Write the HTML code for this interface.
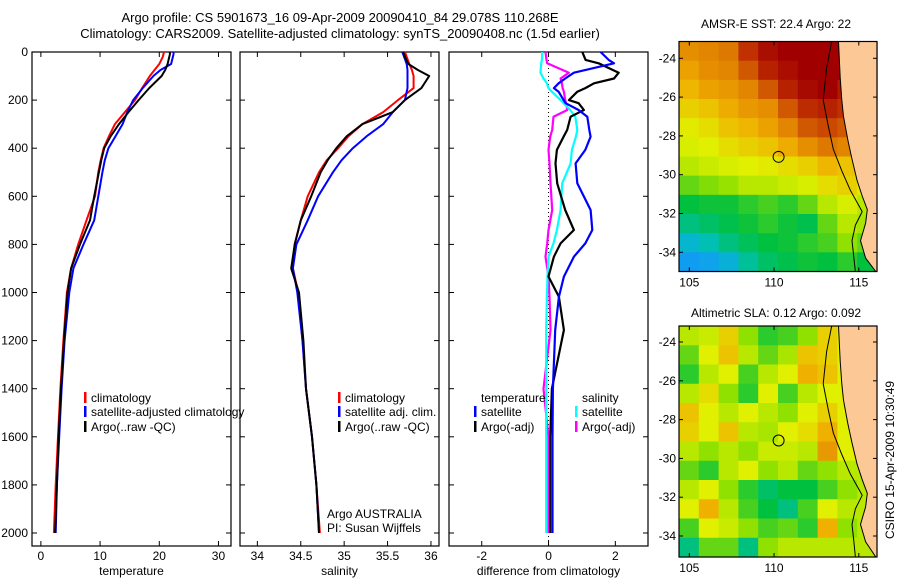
<!DOCTYPE html>
<html><head><meta charset="utf-8"><style>
html,body{margin:0;padding:0;background:#fff;}
svg{display:block;font-family:"Liberation Sans",sans-serif;}
</style></head><body>
<svg id="fig" width="900" height="580" viewBox="0 0 900 580" xmlns="http://www.w3.org/2000/svg">
<text x="340" y="22" font-size="13" text-anchor="middle">Argo profile: CS 5901673_16 09-Apr-2009 20090410_84 29.078S 110.268E</text>
<text x="340" y="38" font-size="13" text-anchor="middle">Climatology: CARS2009. Satellite-adjusted climatology: synTS_20090408.nc (1.5d earlier)</text>
<text x="776" y="28" font-size="12" text-anchor="middle">AMSR-E SST: 22.4 Argo: 22</text>
<text x="776" y="317" font-size="12" text-anchor="middle">Altimetric SLA: 0.12 Argo: 0.092</text>
<text transform="translate(894,460) rotate(-90)" font-size="12" text-anchor="middle">CSIRO 15-Apr-2009 10:30:49</text>
</svg>
<script>
// ---- data ----
const depths = [0,10,20,50,75,100,150,200,250,300,350,400,450,500,600,700,800,900,1000,1200,1400,1600,1800,2000];
const tempClim = [20.8,20.7,20.6,20.0,19.2,18.4,17.1,15.9,14.2,12.5,11.5,10.6,10.1,9.7,9.15,7.7,6.3,5.1,4.4,3.8,3.3,2.9,2.5,2.2];
const tempSat  = [22.4,22.4,22.3,22.0,20.2,19.0,17.2,15.6,14.6,13.8,12.6,11.4,10.8,10.4,9.7,9.0,7.2,5.5,4.8,4.0,3.5,3.1,2.7,2.5];
const tempArgo = [21.8,21.8,21.7,21.4,21.0,20.4,18.3,16.5,14.8,13.2,11.8,10.7,10.2,9.8,9.0,8.3,6.6,5.1,4.5,3.9,3.4,3.0,2.7,2.4];
const salClim = [35.70,35.71,35.72,35.75,35.78,35.80,35.80,35.62,35.45,35.21,35.05,34.93,34.80,34.71,34.58,34.50,34.43,34.41,34.47,34.52,34.56,34.63,34.68,34.72];
const salSat  = [35.67,35.68,35.69,35.72,35.73,35.73,35.73,35.70,35.56,35.45,35.26,35.10,34.97,34.87,34.70,34.58,34.45,34.41,34.46,34.52,34.56,34.63,34.68,34.71];
const salArgo = [35.68,35.69,35.70,35.74,35.85,35.98,35.89,35.70,35.56,35.21,35.03,34.91,34.81,34.73,34.62,34.50,34.43,34.39,34.48,34.53,34.56,34.63,34.68,34.71];
const diffDepthA = [0,33,47,86,110,130,150,165,200,213,241,269,324,352,407,463,546,657,740,796,851,934,1018,1156,1400,1600,1800,2000];
const diffTSat   = [1.56,1.8,1.96,0.76,0.5,0.3,0.16,0.3,0.45,0.51,0.9,1.16,1.22,1.26,1.1,0.81,0.86,1.26,1.31,1.1,0.76,0.46,0.31,0.2,0.13,0.12,0.12,0.12];
const diffTArgo  = [1.01,1.11,1.5,2.1,1.96,1.36,1.1,0.86,0.61,0.9,1.06,0.66,0.56,0.45,0.25,0.21,0.26,0.5,0.76,0.36,0.16,0.0,0.31,0.46,0.1,0.05,0.05,0.05];
const diffSSat   = [-0.19,-0.2,-0.22,-0.24,-0.15,-0.05,0.0,0.1,0.36,0.45,0.65,0.8,0.86,0.82,0.7,0.66,0.41,0.36,0.25,0.15,0.0,-0.03,-0.05,-0.07,-0.07,-0.07,-0.07,-0.07];
const diffSArgo  = [-0.09,-0.06,-0.04,0.61,0.36,0.4,0.42,0.46,0.5,0.53,0.56,0.15,0.11,0.05,0.0,0.03,0.06,0.11,0.0,-0.04,-0.09,0.0,0.03,0.06,-0.15,0.0,0.0,0.0];
const yTicks = [0,200,400,600,800,1000,1200,1400,1600,1800,2000];
const tTicks = [0,10,20,30];
const sTicks = [34,34.5,35,35.5,36];
const sTickLabels = ["34","34.5","35","35.5","36"];
const dTicks = [-2,0,2];
const latTicks = [-24,-26,-28,-30,-32,-34];
const lonTicks = [105,110,115];
const sstGrid = [
[.72,.74,.76,.85,.92,.95,.95,.95,.95,.95],
[.68,.72,.74,.80,.88,.92,.95,.95,.95,.90],
[.64,.68,.70,.74,.80,.88,.93,.95,.90,.85],
[.60,.62,.66,.70,.72,.80,.86,.88,.85,.80],
[.56,.58,.62,.64,.68,.74,.80,.82,.80,.72],
[.54,.55,.58,.60,.62,.66,.72,.76,.74,.64],
[.50,.52,.54,.55,.56,.58,.60,.64,.62,.58],
[.42,.44,.46,.50,.50,.52,.54,.58,.60,.56],
[.35,.36,.36,.38,.40,.38,.42,.50,.54,.50],
[.30,.32,.34,.36,.38,.36,.34,.42,.50,.48],
[.22,.26,.30,.33,.35,.36,.38,.40,.45,.42],
[.14,.16,.20,.28,.32,.34,.36,.35,.38,.35]];
const slaGrid = [
[.50,.52,.60,.45,.38,.40,.45,.60,.55,.50],
[.42,.55,.62,.50,.42,.48,.62,.60,.55,.50],
[.38,.50,.55,.40,.50,.55,.65,.62,.55,.50],
[.50,.58,.45,.38,.55,.40,.50,.55,.55,.50],
[.62,.55,.50,.55,.50,.45,.55,.60,.55,.50],
[.60,.55,.62,.50,.48,.55,.58,.65,.55,.50],
[.50,.45,.50,.45,.52,.52,.50,.70,.55,.50],
[.42,.38,.50,.55,.45,.50,.42,.45,.50,.50],
[.50,.55,.45,.38,.32,.35,.35,.40,.45,.50],
[.55,.65,.50,.40,.35,.30,.40,.55,.50,.50],
[.40,.55,.52,.45,.40,.42,.38,.65,.45,.50],
[.30,.42,.42,.30,.45,.50,.50,.50,.50,.50]];
const coastLat = [-23,-25,-26.15,-27,-28.2,-29.2,-30.3,-31.1,-31.8,-32.5,-33.4,-34.3,-35.1];
const coastLon = [113.8,113.9,114.0,114.1,114.35,114.6,114.9,115.2,115.5,115.4,115.1,115.4,116];
const shelfLat = [-23,-24.5,-26.15,-27.5,-28.7,-29.8,-30.8,-31.9,-32.6,-33.4,-34.2,-35.1];
const shelfLon = [113.4,113.1,112.9,113.2,113.5,114.0,114.5,115.2,114.8,114.6,114.7,114.8];
const argoLat = -29.078, argoLon = 110.268;

// ---- helpers ----
const NS="http://www.w3.org/2000/svg";
const svg=document.getElementById('fig');
function mk(tag,attrs,parent){const e=document.createElementNS(NS,tag);for(const k in attrs)e.setAttribute(k,attrs[k]);(parent||svg).appendChild(e);return e;}
const yTop=52, yPx=0.2405, plotBottom=546;
const yDepth=d=>yTop+d*yPx;
const panels=[
 {name:'temperature-panel',x0:32,x1:231,v0:-1.5,ppu:5.92,ticks:tTicks,labels:tTicks.map(String),xlabel:'temperature'},
 {name:'salinity-panel',x0:240,x1:439,v0:33.8,ppu:86.8,ticks:sTicks,labels:sTickLabels,xlabel:'salinity'},
 {name:'difference-panel',x0:449,x1:648,v0:-2.98,ppu:33.4,ticks:dTicks,labels:dTicks.map(String),xlabel:'difference from climatology'}];
panels.forEach(p=>{p.sx=v=>p.x0+(v-p.v0)*p.ppu;});

panels.forEach((p,i)=>{
 const g=mk('g',{});
 
 
 const r=mk('rect',{x:p.x0,y:yTop,width:p.x1-p.x0,height:plotBottom-yTop,fill:'none',stroke:'#000','stroke-width':1.2},g);
 
 
 p.ticks.forEach((t,k)=>{
  const x=p.sx(t);
  mk('line',{x1:x,x2:x,y1:plotBottom,y2:plotBottom-5,stroke:'#000'},g);
  mk('line',{x1:x,x2:x,y1:yTop,y2:yTop+5,stroke:'#000'},g);
  const tl=mk('text',{x:x,y:plotBottom+14,'font-size':12,'text-anchor':'middle'},g);
  tl.textContent=p.labels[k];
  
  
 });
 yTicks.forEach(d=>{
  const y=yDepth(d);
  mk('line',{x1:p.x0,x2:p.x0+5,y1:y,y2:y,stroke:'#000'},g);
  mk('line',{x1:p.x1,x2:p.x1-5,y1:y,y2:y,stroke:'#000'},g);
  if(i===0){const tl=mk('text',{x:p.x0-4,y:y+4,'font-size':12,'text-anchor':'end'},g);tl.textContent=d;
   
   }
 });
 const xl=mk('text',{x:(p.x0+p.x1)/2,y:575,'font-size':12,'text-anchor':'middle'},g);
 xl.textContent=p.xlabel;
 
 
});
function line(p,vals,ds,color,name,w){
 const pts=vals.map((v,k)=>p.sx(v).toFixed(1)+','+yDepth(ds[k]).toFixed(1)).join(' ');
 const e=mk('polyline',{points:pts,fill:'none',stroke:color,'stroke-width':w||2,'stroke-linejoin':'round'});
 
 
}
const P=panels;
const zl=mk('line',{x1:P[2].sx(0),x2:P[2].sx(0),y1:yTop,y2:plotBottom,stroke:'#000','stroke-dasharray':'1,3'});


line(P[0],tempClim,depths,'#f00','temp-climatology-line');
line(P[0],tempSat,depths,'#00f','temp-satellite-line');
line(P[0],tempArgo,depths,'#000','temp-argo-line');
line(P[1],salClim,depths,'#f00','sal-climatology-line');
line(P[1],salSat,depths,'#00f','sal-satellite-line');
line(P[1],salArgo,depths,'#000','sal-argo-line');
line(P[2],diffSArgo,diffDepthA,'#f0f','diff-sal-argo-line',2.2);
line(P[2],diffSSat,diffDepthA,'#0ff','diff-sal-satellite-line',2.2);
line(P[2],diffTArgo,diffDepthA,'#000','diff-temp-argo-line',2.2);
line(P[2],diffTSat,diffDepthA,'#00f','diff-temp-satellite-line',2.2);

function legend(x,y,color,text,name){
 const g=mk('g',{});
 
 
 if(color) mk('rect',{x:x-7,y:y-10,width:2.5,height:11,fill:color},g);
 const t=mk('text',{x:x,y:y,'font-size':12},g);t.textContent=text;
}
legend(91,402,'#f00','climatology','legend-entry-climatology');
legend(91,416,'#00f','satellite-adjusted climatology','legend-entry-satellite-adjusted');
legend(91,431,'#000','Argo(..raw -QC)','legend-entry-argo');
legend(345,402,'#f00','climatology','legend-entry-sal-climatology');
legend(345,416,'#00f','satellite adj. clim.','legend-entry-sal-satellite');
legend(345,431,'#000','Argo(..raw -QC)','legend-entry-sal-argo');
legend(481,402,null,'temperature','legend-header-temperature');
legend(481,416,'#00f','satellite','legend-entry-diff-temp-satellite');
legend(481,431,'#000','Argo(-adj)','legend-entry-diff-temp-argo');
legend(582,402,null,'salinity','legend-header-salinity');
legend(582,416,'#0ff','satellite','legend-entry-diff-sal-satellite');
legend(582,431,'#f0f','Argo(-adj)','legend-entry-diff-sal-argo');
legend(327,518,null,'Argo AUSTRALIA','argo-australia-label');
legend(327,532,null,'PI: Susan Wijffels','pi-label');

// ---- maps ----
const cmapStops=[[0,[0,96,255]],[.15,[16,160,240]],[.25,[0,192,192]],[.35,[0,192,64]],[.45,[144,224,0]],[.55,[224,240,0]],[.65,[240,176,0]],[.75,[224,128,0]],[.85,[192,48,0]],[.95,[160,0,0]],[1,[160,0,0]]];
function cmap(v){for(let i=1;i<cmapStops.length;i++){if(v<=cmapStops[i][0]){const a=cmapStops[i-1],b=cmapStops[i];const f=(v-a[0])/(b[0]-a[0]);return 'rgb('+a[1].map((c,k)=>Math.round(c+(b[1][k]-c)*f)).join(',')+')';}}return 'rgb(160,0,0)';}
function drawMap(name,box,lat24y,grid){
 const g=mk('g',{});
 
 
 const lx=lon=>689.3+(lon-105)*16.95;
 const ly=lat=>lat24y+(-24-lat)*19.4;
 const rows=grid.length, cols=grid[0].length;
 const cw=(box.x1-box.x0)/cols, ch=(box.y1-box.y0)/rows;
 grid.forEach((row,r)=>row.forEach((v,c)=>{
  const cell=mk('rect',{x:box.x0+c*cw,y:box.y0+r*ch,width:cw+0.6,height:ch+0.6,fill:cmap(v)},g);
  
  
 }));
 let d='M'+coastLon.map((lo,k)=>lx(lo).toFixed(1)+','+Math.min(Math.max(ly(coastLat[k]),box.y0),box.y1).toFixed(1)).join(' L')+' L'+box.x1+','+box.y1+' L'+box.x1+','+box.y0+' Z';
 const land=mk('path',{d:d,fill:'#fbc896',stroke:'#000','stroke-width':1},g);
 
 
 const sh=mk('polyline',{points:shelfLon.map((lo,k)=>lx(lo).toFixed(1)+','+Math.min(Math.max(ly(shelfLat[k]),box.y0),box.y1).toFixed(1)).join(' '),fill:'none',stroke:'#000','stroke-width':1},g);
 
 
 const ci=mk('circle',{cx:lx(argoLon),cy:ly(argoLat),r:5.5,fill:'none',stroke:'#000','stroke-width':1},g);
 
 
 const fr=mk('rect',{x:box.x0,y:box.y0,width:box.x1-box.x0,height:box.y1-box.y0,fill:'none',stroke:'#000','stroke-width':1.2},g);
 
 
 latTicks.forEach(lt=>{const y=ly(lt);
  mk('line',{x1:box.x0,x2:box.x0+4,y1:y,y2:y,stroke:'#000'},g);
  mk('line',{x1:box.x1,x2:box.x1-4,y1:y,y2:y,stroke:'#000'},g);
  const t=mk('text',{x:box.x0-3,y:y+4,'font-size':12,'text-anchor':'end'},g);t.textContent=lt;
  
  });
 lonTicks.forEach(ln=>{const x=lx(ln);
  mk('line',{x1:x,x2:x,y1:box.y0,y2:box.y0+4,stroke:'#000'},g);
  mk('line',{x1:x,x2:x,y1:box.y1,y2:box.y1-4,stroke:'#000'},g);
  const t=mk('text',{x:x,y:box.y1+15,'font-size':12,'text-anchor':'middle'},g);t.textContent=ln;
  
  });
}
drawMap('sst-map',{x0:679,x1:877,y0:41.5,y1:271.5},58.3,sstGrid);
drawMap('sla-map',{x0:679,x1:877,y0:326,y1:557},342,slaGrid);
</script>
</body></html>
